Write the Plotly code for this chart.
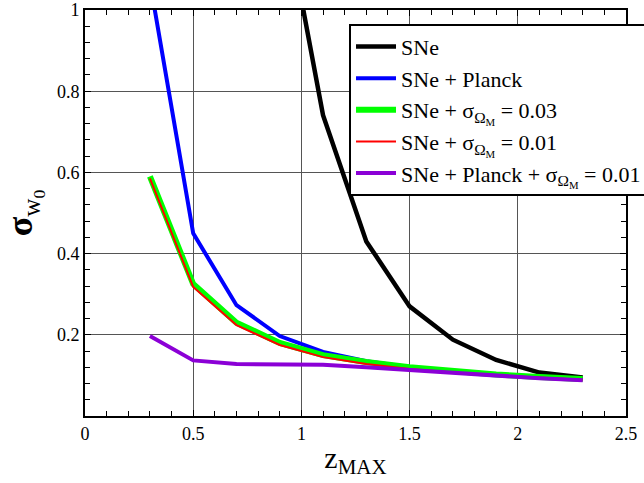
import plotly.graph_objects as go

z_all = [0.3, 0.5, 0.7, 0.9, 1.1, 1.3, 1.5, 1.7, 1.9, 2.1, 2.3]
z_sne = [0.9, 1.1, 1.3, 1.5, 1.7, 1.9, 2.1, 2.3]
sne = [1.31, 0.741, 0.43, 0.27, 0.188, 0.138, 0.107, 0.095]
sne_planck = [1.07, 0.45, 0.273, 0.197, 0.158, 0.135, 0.12, 0.11, 0.102, 0.097, 0.092]
sne_om03 = [0.59, 0.325, 0.23, 0.18, 0.15, 0.133, 0.12, 0.11, 0.102, 0.096, 0.091]
sne_om01 = [0.585, 0.318, 0.224, 0.175, 0.145, 0.128, 0.116, 0.107, 0.1, 0.094, 0.089]
sne_planck_om01 = [0.197, 0.137, 0.128, 0.128, 0.126, 0.12, 0.113, 0.105, 0.098, 0.093, 0.088]

x_ticks = [0, 0.5, 1, 1.5, 2, 2.5]
x_ticktext = ["0", "0.5", "1", "1.5", "2", "2.5"]
y_ticks = [0.2, 0.4, 0.6, 0.8, 1]
y_ticktext = ["0.2", "0.4", "0.6", "0.8", "1"]

names = ["SNe", "SNe + Planck",
         "SNe + σ<sub>Ω<sub>M</sub></sub> = 0.03",
         "SNe + σ<sub>Ω<sub>M</sub></sub> = 0.01",
         "SNe + Planck + σ<sub>Ω<sub>M</sub></sub> = 0.01"]

FONT = "Liberation Serif"

fig = go.Figure()
specs = [
    (z_sne, sne, "black", 4.5),
    (z_all, sne_planck, "#0000ff", 4),
    (z_all, sne_om03, "#00ff00", 6),
    (z_all, sne_om01, "#ff0000", 2),
    (z_all, sne_planck_om01, "#8b00d6", 4),
]
for (xs, ys, col, w), nm in zip(specs, names):
    fig.add_trace(go.Scatter(x=xs, y=ys, mode="lines", name=nm,
                             line=dict(color=col, width=w)))

tickfont = dict(family=FONT, size=18, color="black")
fig.update_layout(
    template="none",
    width=644, height=483,
    margin=dict(l=85, r=18, t=10, b=67, autoexpand=False),
    paper_bgcolor="white", plot_bgcolor="white",
    font=dict(family=FONT, color="black", size=18),
    showlegend=True,
    legend=dict(x=0.488, y=0.966, xanchor="left", yanchor="top",
                bgcolor="white", bordercolor="black", borderwidth=2,
                font=dict(family=FONT, size=22, color="black"), tracegroupgap=0,
                itemwidth=40),
    xaxis=dict(range=[0, 2.5], tickvals=x_ticks, ticktext=x_ticktext, tickfont=tickfont,
               ticklabeloverflow="allow",
               showgrid=True, gridcolor="#555555", gridwidth=1,
               showline=True, linecolor="black", linewidth=2, mirror="ticks",
               ticks="inside", ticklen=6, tickcolor="black",
               minor=dict(dtick=0.1, ticks="inside", ticklen=5, tickcolor="black", showgrid=False),
               zeroline=False,
               title=dict(text="z<sub>MAX</sub>", font=dict(family=FONT, size=30, color="black"), standoff=4)),
    yaxis=dict(range=[0, 1], tickvals=y_ticks, ticktext=y_ticktext, tickfont=tickfont,
               ticklabeloverflow="allow",
               showgrid=True, gridcolor="#555555", gridwidth=1,
               showline=True, linecolor="black", linewidth=2, mirror="ticks",
               ticks="inside", ticklen=6, tickcolor="black",
               minor=dict(dtick=0.04, ticks="inside", ticklen=5, tickcolor="black", showgrid=False),
               zeroline=False,
               title=dict(text="<b>σ</b><sub>w<sub>0</sub></sub>", font=dict(family=FONT, size=36, color="black"), standoff=24)),
)

fig.write_html("out.html")
